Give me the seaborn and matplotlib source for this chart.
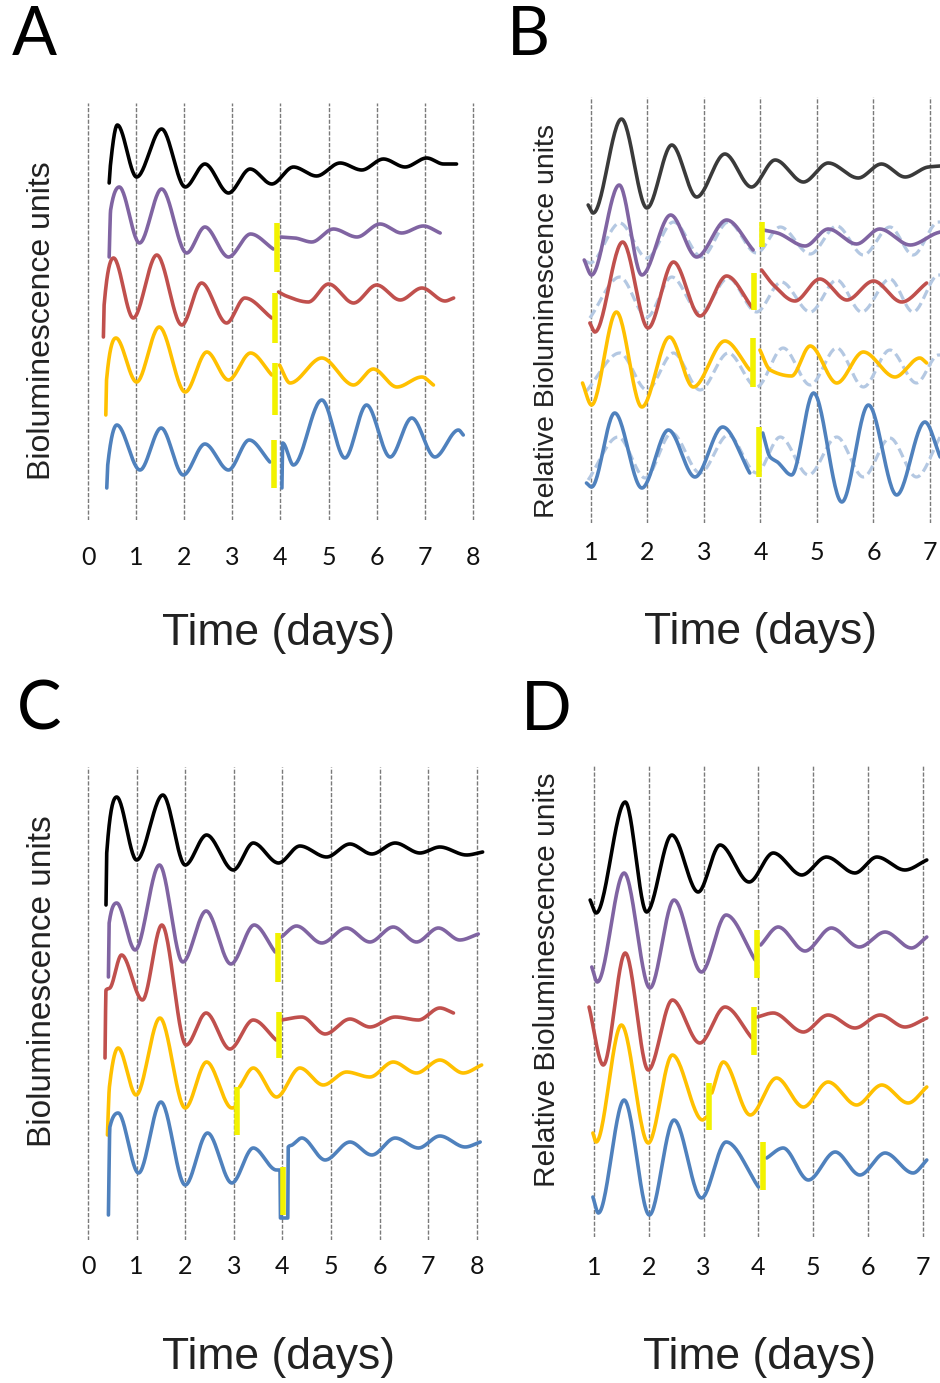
import numpy as np
import matplotlib
matplotlib.use('Agg')
import matplotlib.pyplot as plt
import seaborn as sns

nan = np.nan

# colours of the five reporter lines
c_black = '#000000'
c_gray = '#3a3a3a'
c_purple = '#8064A2'
c_red = '#C0504D'
c_gold = '#FFC000'
c_blue = '#4F81BD'
c_dash = '#B4C8E2'
c_mark = '#F2F200'

# ---------------- panel A (peaks / troughs) ----------------
A_ticks = [0, 1, 2, 3, 4, 5, 6, 7, 8]
A_black_t = [0.44, 0.46, 0.61, 1.01, 1.53, 2.02, 2.43, 2.92, 3.37, 3.82, 4.27, 4.75, 5.24, 5.69, 6.14, 6.59, 7.04, 7.39, 7.66]
A_black_v = [337, 352, 395, 343, 391, 333, 356, 327, 351, 336, 353, 344, 357, 350, 361, 353, 362, 356, 356]
A_purple_t = [0.44, 0.47, 0.65, 1.07, 1.53, 2.05, 2.43, 2.92, 3.38, 3.85, nan, 4.0, 4.3, 4.65, 5.1, 5.59, 6.07, 6.52, 6.97, 7.32]
A_purple_v = [263, 310, 333, 277, 331, 267, 293, 263, 286, 271, nan, 283, 282, 278, 291, 283, 296, 287, 294, 287]
A_red_t = [0.32, 0.335, 0.53, 0.94, 1.43, 1.95, 2.36, 2.88, 3.26, 3.82, nan, 3.96, 4.12, 4.58, 5.0, 5.52, 6.0, 6.49, 6.94, 7.42, 7.6]
A_red_v = [183, 215, 262, 202, 265, 195, 237, 197, 222, 202, nan, 228, 224, 218, 236, 217, 235, 220, 232, 219, 222]
A_gold_t = [0.37, 0.385, 0.58, 1.01, 1.48, 2.02, 2.47, 2.92, 3.38, 3.82, nan, 3.98, 4.2, 4.86, 5.52, 5.93, 6.42, 6.94, 7.18]
A_gold_v = [105, 140, 182, 138, 193, 128, 168, 140, 167, 145, nan, 155, 137, 162, 135, 151, 133, 143, 135]
A_blue_t = [0.39, 0.41, 0.6, 1.08, 1.52, 1.98, 2.43, 2.92, 3.35, 3.78, nan, 4.03, 4.045, 4.27, 4.86, 5.34, 5.79, 6.28, 6.73, 7.21, 7.7, 7.8]
A_blue_v = [32, 55, 95, 50, 92, 45, 76, 50, 80, 58, nan, 32, 77, 55, 120, 62, 115, 63, 102, 63, 90, 85]
A_mark_t = [3.92, 3.89, 3.89, 3.87]
A_mark_lo = [248, 177, 105, 32]
A_mark_hi = [297, 227, 157, 80]

# ---------------- panel B ----------------
B_ticks = [1, 2, 3, 4, 5, 6, 7]
B_gray_t = [0.95, 1.04, 1.54, 1.99, 2.43, 2.87, 3.37, 3.84, 4.26, 4.76, 5.2, 5.73, 6.14, 6.56, 6.97, 7.18]
B_gray_v = [318, 310, 404, 315, 378, 326, 369, 336, 363, 341, 360, 345, 359, 346, 356, 357]
B_purple_t = [0.88, 1.01, 1.5, 1.9, 2.41, 2.87, 3.4, 3.87, nan, 4.05, 4.3, 4.79, 5.2, 5.7, 6.11, 6.65, 7.12, 7.18]
B_purple_v = [263, 248, 338, 248, 308, 266, 303, 273, nan, 293, 290, 277, 294, 279, 294, 278, 290, 291]
B_purple_ref_t = [0.9, 0.98, 1.51, 1.99, 2.46, 2.96, 3.43, 3.93, 4.35, 4.88, 5.35, 5.82, 6.29, 6.7, 7.15, 7.18]
B_purple_ref_v = [262, 260, 300, 265, 301, 266, 301, 270, 296, 269, 297, 268, 296, 268, 301, 301]
B_red_t = [0.98, 1.07, 1.56, 2.01, 2.46, 2.93, 3.4, 3.86, nan, 4.02, 4.23, 4.61, 5.05, 5.53, 6.0, 6.5, 6.94]
B_red_v = [200, 191, 281, 195, 261, 207, 247, 215, nan, 253, 238, 222, 244, 223, 242, 221, 240]
B_red_ref_t = [0.98, 1.51, 1.99, 2.43, 2.93, 3.43, 3.93, 4.37, 4.88, 5.35, 5.79, 6.29, 6.7, 7.15, 7.18]
B_red_ref_v = [205, 246, 206, 246, 210, 245, 211, 241, 211, 243, 211, 244, 211, 248, 248]
B_gold_t = [0.85, 1.01, 1.45, 1.9, 2.39, 2.81, 3.37, 3.81, nan, 3.99, 4.17, 4.55, 4.88, 5.35, 5.82, 6.38, 6.82, 6.94]
B_gold_v = [140, 118, 211, 116, 186, 136, 182, 153, nan, 173, 153, 147, 177, 140, 171, 146, 165, 160]
B_gold_ref_t = [0.92, 1.51, 1.99, 2.46, 2.93, 3.43, 3.93, 4.4, 4.88, 5.35, 5.82, 6.29, 6.76, 7.15, 7.18]
B_gold_ref_v = [132, 170, 133, 170, 133, 170, 136, 175, 138, 175, 136, 173, 140, 168, 168]
B_blue_t = [0.92, 1.01, 1.42, 1.9, 2.37, 2.84, 3.33, 3.81, nan, 4.04, 4.17, 4.3, 4.55, 4.94, 5.44, 5.91, 6.41, 6.91, 7.18]
B_blue_v = [40, 36, 110, 35, 93, 46, 96, 50, nan, 90, 66, 61, 48, 130, 21, 118, 28, 101, 66]
B_blue_ref_t = [0.95, 1.48, 1.96, 2.43, 2.93, 3.43, 3.93, 4.35, 4.85, 5.35, 5.82, 6.29, 6.76, 7.18]
B_blue_ref_v = [43, 86, 45, 90, 50, 88, 50, 86, 48, 86, 46, 85, 46, 86]
B_mark_t = [4.02, 3.88, 3.87, 3.98]
B_mark_lo = [276, 213, 136, 46]
B_mark_hi = [301, 250, 185, 96]

# ---------------- panel C ----------------
C_ticks = [0, 1, 2, 3, 4, 5, 6, 7, 8]
C_black_t = [0.37, 0.385, 0.59, 1.0, 1.54, 2.0, 2.44, 2.99, 3.4, 3.92, 4.36, 4.91, 5.39, 5.84, 6.32, 6.83, 7.24, 7.79, 8.12]
C_black_v = [335, 387, 443, 380, 445, 375, 405, 370, 397, 377, 394, 383, 396, 386, 397, 387, 393, 385, 388]
C_purple_t = [0.42, 0.435, 0.59, 0.97, 1.47, 1.95, 2.43, 2.94, 3.42, 3.85, nan, 3.98, 4.29, 4.81, 5.32, 5.8, 6.28, 6.76, 7.21, 7.65, 8.03]
C_purple_v = [263, 317, 337, 290, 375, 278, 329, 276, 315, 288, nan, 303, 314, 297, 312, 298, 313, 298, 312, 300, 306]
C_red_t = [0.35, 0.37, 0.45, 0.69, 1.12, 1.52, 2.02, 2.43, 2.92, 3.4, 3.87, nan, 3.98, 4.4, 4.88, 5.39, 5.8, 6.32, 6.8, 7.24, 7.52]
C_red_v = [182, 250, 252, 285, 240, 315, 195, 227, 191, 220, 200, nan, 220, 223, 206, 221, 213, 223, 220, 232, 227]
C_gold_t = [0.4, 0.44, 0.62, 0.99, 1.48, 2.0, 2.44, 2.96, 3.03, nan, 3.12, 3.4, 3.88, 4.36, 4.84, 5.32, 5.8, 6.28, 6.76, 7.24, 7.72, 8.1]
C_gold_v = [105, 153, 192, 145, 222, 132, 178, 132, 133, nan, 153, 172, 143, 172, 155, 168, 163, 178, 167, 180, 167, 175]
C_blue_t = [0.42, 0.45, 0.62, 1.04, 1.5, 2.0, 2.46, 2.96, 3.4, 3.88, 3.95, 3.96, 4.11, 4.12, 4.2, 4.4, 4.88, 5.39, 5.84, 6.32, 6.8, 7.24, 7.76, 8.07]
C_blue_v = [25, 113, 127, 67, 138, 55, 107, 57, 92, 70, 70, 22, 22, 93, 95, 102, 80, 98, 85, 102, 92, 104, 93, 98]
C_mark_t = [3.9, 3.92, 3.07, 4.02]
C_mark_lo = [258, 182, 105, 25]
C_mark_hi = [307, 228, 153, 73]

# ---------------- panel D ----------------
D_ticks = [1, 2, 3, 4, 5, 6, 7]
D_black_t = [0.93, 1.04, 1.57, 1.96, 2.42, 2.9, 3.3, 3.83, 4.27, 4.79, 5.24, 5.76, 6.16, 6.67, 7.07]
D_black_v = [337, 324, 435, 325, 402, 345, 392, 355, 384, 362, 380, 364, 380, 367, 377]
D_purple_t = [0.96, 1.06, 1.55, 2.02, 2.46, 2.96, 3.41, 3.94, nan, 4.04, 4.36, 4.85, 5.33, 5.84, 6.31, 6.79, 7.07]
D_purple_v = [270, 255, 364, 249, 337, 265, 322, 277, nan, 292, 310, 286, 309, 290, 305, 289, 300]
D_red_t = [0.91, 1.17, 1.57, 1.99, 2.43, 2.93, 3.39, 3.88, nan, 3.98, 4.27, 4.82, 5.27, 5.76, 6.22, 6.67, 7.07]
D_red_v = [230, 172, 284, 167, 237, 194, 230, 199, nan, 220, 224, 205, 222, 209, 222, 210, 219]
D_gold_t = [0.98, 1.04, 1.5, 1.99, 2.43, 2.98, 3.05, nan, 3.15, 3.36, 3.85, 4.33, 4.82, 5.27, 5.79, 6.25, 6.73, 7.07]
D_gold_v = [104, 95, 212, 94, 182, 117, 120, nan, 144, 175, 122, 159, 130, 155, 132, 152, 134, 150]
D_blue_t = [0.98, 1.08, 1.55, 2.01, 2.46, 2.96, 3.41, 4.0, nan, 4.15, 4.45, 4.91, 5.4, 5.85, 6.31, 6.82, 7.07]
D_blue_v = [40, 24, 137, 22, 117, 39, 95, 50, nan, 79, 89, 57, 85, 62, 84, 64, 77]
D_mark_t = [3.98, 3.92, 3.09, 4.09]
D_mark_lo = [259, 182, 107, 47]
D_mark_hi = [307, 230, 154, 95]


def pchip(t, v, n=30):
    # monotone cubic through the read points, so peaks stay where they were read
    t = np.asarray(t, float)
    v = np.asarray(v, float)
    h = np.diff(t)
    d = np.diff(v) / h
    m = np.zeros_like(v)
    m[0] = d[0]
    m[-1] = d[-1]
    for k in range(1, len(t) - 1):
        if d[k - 1] * d[k] > 0:
            w1 = 2 * h[k] + h[k - 1]
            w2 = h[k] + 2 * h[k - 1]
            m[k] = (w1 + w2) / (w1 / d[k - 1] + w2 / d[k])
    s = np.linspace(0, 1, n)
    h00 = 2 * s**3 - 3 * s**2 + 1
    h10 = s**3 - 2 * s**2 + s
    h01 = -2 * s**3 + 3 * s**2
    h11 = s**3 - s**2
    xs, ys = [], []
    for k in range(len(h)):
        xs.append(t[k] + s * h[k])
        ys.append(h00 * v[k] + h10 * h[k] * m[k] + h01 * v[k + 1] + h11 * h[k] * m[k + 1])
    return np.concatenate(xs), np.concatenate(ys)


def draw_trace(ax, t, v, color, lw=2.6, **kw):
    t = np.asarray(t, float)
    v = np.asarray(v, float)
    cuts = np.where(np.isnan(t))[0]
    start = 0
    for stop in list(cuts) + [len(t)]:
        xs, ys = pchip(t[start:stop], v[start:stop])
        sns.lineplot(x=xs, y=ys, ax=ax, color=color, lw=lw, sort=False,
                     estimator=None, legend=False, **kw)
        start = stop + 1


sns.set_theme(style='white')
plt.rcParams['font.family'] = ['Liberation Sans', 'DejaVu Sans']

W, H = 940, 1383
fig = plt.figure(figsize=(W / 100, H / 100), dpi=100)


def make_axes(left, right, top, bottom):
    return fig.add_axes([left / W, 1 - bottom / H, (right - left) / W, (bottom - top) / H])


axA = make_axes(78, 483, 103, 520)
axB = make_axes(575, 940, 97, 523)
axC = make_axes(78, 487, 767, 1240)
axD = make_axes(580, 935, 765, 1237)

panels = [
    (axA, (-0.208, 8.21), (0, 417), A_ticks, 19, (0.494, -0.271), (-0.089, 0.478), 23, 'Bioluminescence units'),
    (axB, (0.717, 7.177), (0, 426), B_ticks, 13, (0.507, -0.258), (-0.077, 0.474), 20.5, 'Relative Bioluminescence units'),
    (axC, (-0.206, 8.21), (0, 473), C_ticks, 11, (0.489, -0.249), (-0.088, 0.548), 24, 'Bioluminescence units'),
    (axD, (0.745, 7.22), (0, 472), D_ticks, 14, (0.507, -0.256), (-0.093, 0.545), 21.5, 'Relative Bioluminescence units'),
]

for ax, xl, yl, ticks, pad, xlab, ylab, yfs, ytxt in panels:
    ax.set_xlim(*xl)
    ax.set_ylim(*yl)
    ax.set_xticks(ticks)
    ax.set_xticklabels([str(k) for k in ticks], family='Lato', fontsize=18)
    ax.set_yticks([])
    ax.tick_params(axis='x', length=0, pad=pad, colors='#111111')
    for sp in ax.spines.values():
        sp.set_visible(False)
    ax.grid(axis='x', color='#7a7a7a', lw=1.0, ls=(0, (3, 1.2)))
    ax.set_axisbelow(True)
    ax.set_xlabel('Time (days)', fontsize=32, color='#222222')
    ax.xaxis.set_label_coords(*xlab)
    ax.xaxis.label.set_va('center')
    ax.set_ylabel(ytxt, fontsize=yfs, color='#222222')
    ax.yaxis.set_label_coords(*ylab)
    ax.yaxis.label.set_va('center')
    ax.yaxis.label.set_ha('center')

# panel A
draw_trace(axA, A_black_t, A_black_v, c_black)
draw_trace(axA, A_purple_t, A_purple_v, c_purple)
draw_trace(axA, A_red_t, A_red_v, c_red)
draw_trace(axA, A_gold_t, A_gold_v, c_gold)
draw_trace(axA, A_blue_t, A_blue_v, c_blue)
axA.vlines(A_mark_t, A_mark_lo, A_mark_hi, color=c_mark, lw=4, zorder=5)

# panel B: dashed unperturbed references under the measured lines
for t, v in [(B_purple_ref_t, B_purple_ref_v), (B_red_ref_t, B_red_ref_v),
             (B_gold_ref_t, B_gold_ref_v), (B_blue_ref_t, B_blue_ref_v)]:
    draw_trace(axB, t, v, c_dash, lw=2.3, linestyle=(0, (3, 1.5)), zorder=1)
draw_trace(axB, B_gray_t, B_gray_v, c_gray)
draw_trace(axB, B_purple_t, B_purple_v, c_purple)
draw_trace(axB, B_red_t, B_red_v, c_red)
draw_trace(axB, B_gold_t, B_gold_v, c_gold)
draw_trace(axB, B_blue_t, B_blue_v, c_blue)
axB.vlines(B_mark_t, B_mark_lo, B_mark_hi, color=c_mark, lw=4, zorder=5)

# panel C
draw_trace(axC, C_black_t, C_black_v, c_black)
draw_trace(axC, C_purple_t, C_purple_v, c_purple)
draw_trace(axC, C_red_t, C_red_v, c_red)
draw_trace(axC, C_gold_t, C_gold_v, c_gold)
draw_trace(axC, C_blue_t, C_blue_v, c_blue)
axC.vlines(C_mark_t, C_mark_lo, C_mark_hi, color=c_mark, lw=4, zorder=5)

# panel D
draw_trace(axD, D_black_t, D_black_v, c_black)
draw_trace(axD, D_purple_t, D_purple_v, c_purple)
draw_trace(axD, D_red_t, D_red_v, c_red)
draw_trace(axD, D_gold_t, D_gold_v, c_gold)
draw_trace(axD, D_blue_t, D_blue_v, c_blue)
axD.vlines(D_mark_t, D_mark_lo, D_mark_hi, color=c_mark, lw=4, zorder=5)

# panel letters
for letter, x, y in [('A', 34, 36), ('B', 528, 36), ('C', 39, 711), ('D', 546, 711)]:
    fig.text(x / W, 1 - y / H, letter, family='Lato', fontsize=48,
             ha='center', va='center', color='black')

fig.savefig('out.png', dpi=100, facecolor='white')
